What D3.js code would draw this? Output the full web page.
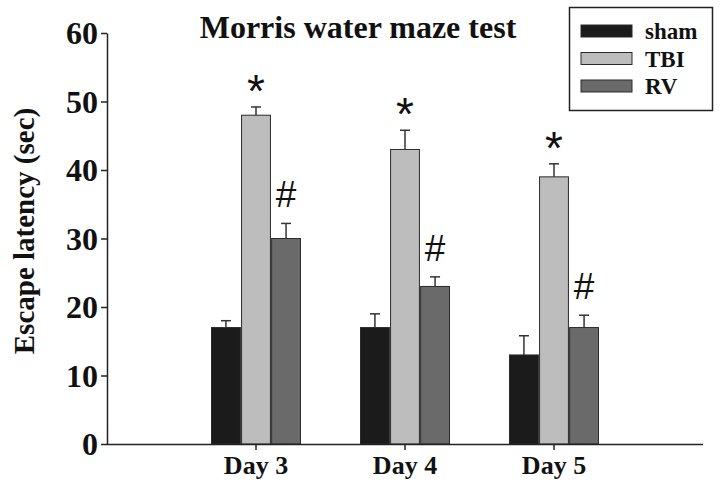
<!DOCTYPE html>
<html>
<head>
<meta charset="utf-8">
<script src="https://cdn.jsdelivr.net/npm/d3@7"></script>
<style>
  body { margin: 0; background: #fff; }
  svg { display: block; }
</style>
</head>
<body>
<script>
// data
const days = ["Day 3", "Day 4", "Day 5"];
const groups = ["sham", "TBI", "RV"];
const shamMean = [17, 17, 13];
const shamErr = [1.0, 2.0, 2.8];
const tbiMean = [48, 43, 39];
const tbiErr = [1.2, 2.8, 1.9];
const rvMean = [30, 23, 17];
const rvErr = [2.2, 1.4, 1.8];
const yTicks = [0, 10, 20, 30, 40, 50, 60];
const marks = { TBI: "*", RV: "#" };

const colors = { sham: "#1b1b1b", TBI: "#bdbdbd", RV: "#6a6a6a" };

const width = 720, height = 486;
const serif = "'Liberation Serif', 'DejaVu Serif', serif";

const svg = d3.select("body").append("svg")
  .attr("width", width)
  .attr("height", height);

const y = d3.scaleLinear().domain([0, 60]).range([444, 33]);
const x = d3.scaleBand().domain(days).range([181.5, 628.5]);
const xInner = d3.scaleBand().domain(groups).range([-44.5, 44.5]).paddingInner(0.04);

// build rows per bar
const series = { sham: [shamMean, shamErr], TBI: [tbiMean, tbiErr], RV: [rvMean, rvErr] };
const rows = [];
days.forEach((d, i) => {
  groups.forEach(g => {
    rows.push({ day: d, group: g, mean: series[g][0][i], err: series[g][1][i] });
  });
});

const cx = d => x(d.day) + x.bandwidth() / 2 + xInner(d.group);
const mid = d => cx(d) + xInner.bandwidth() / 2;

// bars
svg.append("g")
  .selectAll("rect")
  .data(rows)
  .join("rect")
  .attr("x", d => cx(d))
  .attr("y", d => y(d.mean))
  .attr("width", xInner.bandwidth())
  .attr("height", d => y(0) - y(d.mean))
  .attr("fill", d => colors[d.group])
  .attr("stroke", "#2a2a2a")
  .attr("stroke-width", 1);

// error bars (upper only)
const err = svg.append("g")
  .attr("stroke", "#333")
  .attr("stroke-width", 1.5)
  .selectAll("g")
  .data(rows)
  .join("g");

err.append("line")
  .attr("x1", mid)
  .attr("x2", mid)
  .attr("y1", d => y(d.mean))
  .attr("y2", d => y(d.mean + d.err));

err.append("line")
  .attr("x1", d => mid(d) - 5)
  .attr("x2", d => mid(d) + 5)
  .attr("y1", d => y(d.mean + d.err))
  .attr("y2", d => y(d.mean + d.err));

// significance marks
svg.append("g")
  .selectAll("text")
  .data(rows.filter(d => marks[d.group]))
  .join("text")
  .attr("x", mid)
  .attr("y", d => y(d.mean + d.err) - (d.group === "TBI" ? 0 : 16))
  .attr("text-anchor", "middle")
  .attr("font-family", "'Liberation Sans', Arial, sans-serif")
  .attr("font-size", d => d.group === "TBI" ? 46 : 37)
  .attr("fill", "#111")
  .text(d => marks[d.group]);

// y axis
const yAxis = svg.append("g")
  .attr("transform", "translate(107,0)")
  .call(d3.axisLeft(y).tickValues(yTicks).tickSize(6).tickPadding(3).tickSizeOuter(0));
yAxis.select(".domain").attr("stroke", "#222").attr("stroke-width", 1.5);
yAxis.selectAll(".tick line").attr("stroke", "#222").attr("stroke-width", 1.5);
yAxis.selectAll(".tick text")
  .attr("font-family", serif)
  .attr("font-weight", "bold")
  .attr("font-size", 32)
  .attr("fill", "#111")
  .attr("dy", "0.34em");

// x axis
const xAxis = svg.append("g")
  .attr("transform", "translate(0,444)")
  .call(d3.axisBottom(x).tickSize(6).tickPadding(6).tickSizeOuter(0));
xAxis.select(".domain").attr("d", "M107,0.5H703").attr("stroke", "#222").attr("stroke-width", 1.5);
xAxis.selectAll(".tick line").attr("stroke", "#222").attr("stroke-width", 1.5);
xAxis.selectAll(".tick text")
  .attr("font-family", serif)
  .attr("font-weight", "bold")
  .attr("font-size", 26)
  .attr("fill", "#111");

// title
svg.append("text")
  .attr("x", 358)
  .attr("y", 38)
  .attr("text-anchor", "middle")
  .attr("font-family", serif)
  .attr("font-weight", "bold")
  .attr("font-size", 32)
  .attr("fill", "#111")
  .text("Morris water maze test");

// y label
svg.append("text")
  .attr("transform", "translate(34,231) rotate(-90)")
  .attr("text-anchor", "middle")
  .attr("font-family", serif)
  .attr("font-weight", "bold")
  .attr("font-size", 29)
  .attr("fill", "#111")
  .text("Escape latency (sec)");

// legend
const legend = svg.append("g");
legend.append("rect")
  .attr("x", 569.5).attr("y", 7.5)
  .attr("width", 143).attr("height", 103)
  .attr("fill", "#fff")
  .attr("stroke", "#222")
  .attr("stroke-width", 1.5);

const li = legend.selectAll("g")
  .data(groups)
  .join("g")
  .attr("transform", (d, i) => `translate(581,${25 + i * 27.5})`);
li.append("rect")
  .attr("width", 51).attr("height", 12)
  .attr("fill", d => colors[d])
  .attr("stroke", "#2a2a2a")
  .attr("stroke-width", 1);
li.append("text")
  .attr("x", 64).attr("y", 14)
  .attr("font-family", serif)
  .attr("font-weight", "bold")
  .attr("font-size", 23)
  .attr("fill", "#111")
  .text(d => d);
</script>
</body>
</html>
